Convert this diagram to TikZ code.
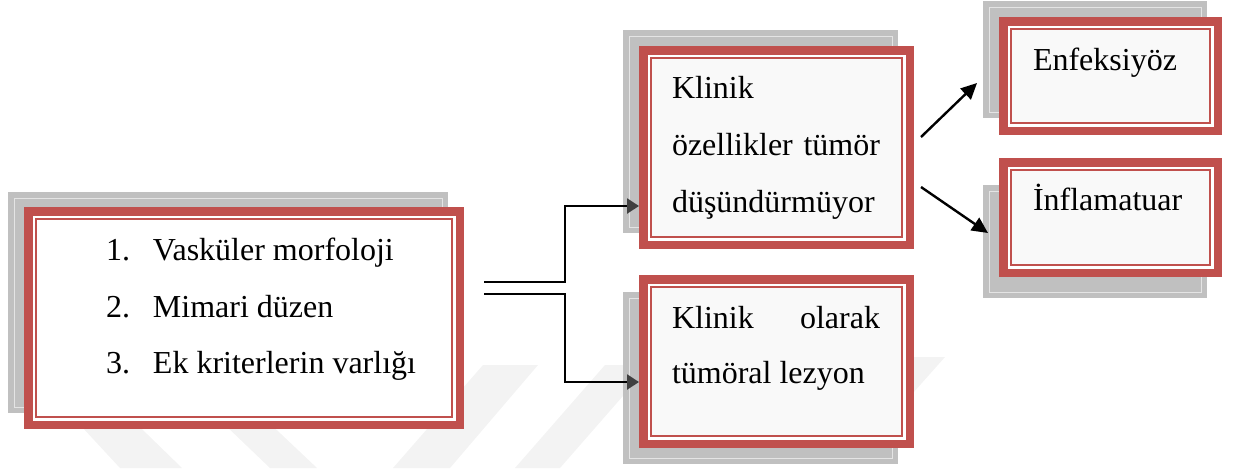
\documentclass[tikz,border=0pt]{standalone}
\usepackage{fontspec}
\setmainfont{Liberation Serif}
\usetikzlibrary{arrows.meta,calc}

\definecolor{boxred}{HTML}{C0504D}
\definecolor{shadowgray}{HTML}{C0C0C0}
\definecolor{shadowline}{HTML}{E4E4E4}
\definecolor{panel}{HTML}{F9F9F9}
\definecolor{tipgray}{HTML}{404040}
\definecolor{wmgray}{HTML}{F3F3F3}

\tikzset{
  % red frame: thick outer border, white gap, thin inner line, filled interior
  redframe/.style={rectangle, fill=boxred, inner sep=0pt, outer sep=0pt,
    path picture={
      \fill[white] ([shift={(4.25pt,-4.25pt)}]path picture bounding box.north west)
        rectangle ([shift={(-4.25pt,4.25pt)}]path picture bounding box.south east);
      \fill[boxred] ([shift={(5.5pt,-5.5pt)}]path picture bounding box.north west)
        rectangle ([shift={(-5.5pt,5.5pt)}]path picture bounding box.south east);
      \fill[#1] ([shift={(6.6pt,-6.6pt)}]path picture bounding box.north west)
        rectangle ([shift={(-6.6pt,6.6pt)}]path picture bounding box.south east);
    }},
  % grey panel lying behind each frame
  shadowpanel/.style={rectangle, fill=shadowgray, inner sep=0pt, outer sep=0pt,
    path picture={
      \draw[shadowline, line width=0.5pt]
        ([shift={(3pt,-3pt)}]path picture bounding box.north west)
        rectangle ([shift={(-3pt,3pt)}]path picture bounding box.south east);
    }},
  txt/.style={anchor=base west, inner sep=0pt, outer sep=0pt,
    font=\fontsize{16pt}{19pt}\selectfont, text=black},
  conn/.style={draw=black, line width=1.2pt,
    -{Triangle[length=6pt,width=7.5pt,color=tipgray]}},
  link/.style={draw=black, line width=1.2pt,
    -{Triangle[length=8pt,width=7.5pt]}},
}

\begin{document}
\begin{tikzpicture}[x=0.5pt,y=-0.5pt]
\useasboundingbox (0,0) rectangle (1234,468);

% faint background stripes
\fill[wmgray] (57,400) -- (112,400) -- (182,468) -- (120,468) -- cycle;
\fill[wmgray] (199,400) -- (245,400) -- (317,468) -- (270,468) -- cycle;
\fill[wmgray] (483,365) -- (538,365) -- (450,468) -- (393,468) -- cycle;
\fill[wmgray] (605,365) -- (650,365) -- (560,468) -- (515,468) -- cycle;
\fill[wmgray] (905,357) -- (945,357) -- (880,430) -- (840,430) -- cycle;

% grey panels
\node[shadowpanel, minimum width=220pt, minimum height=110.5pt] (Ash) at (228,302.5) {};
\node[shadowpanel, minimum width=137.5pt, minimum height=101.5pt] (Bsh) at (760.5,131.5) {};
\node[shadowpanel, minimum width=137.5pt, minimum height=86pt] (Csh) at (760.5,378) {};
\node[shadowpanel, minimum width=112pt, minimum height=58.5pt] (Dsh) at (1095,59.5) {};
\node[shadowpanel, minimum width=112pt, minimum height=56.5pt] (Esh) at (1095,241.5) {};

% framed boxes
\node[redframe=white, minimum width=220pt, minimum height=111pt] (A) at (244,318) {};
\node[redframe=panel, minimum width=137.5pt, minimum height=101.5pt] (B) at (776.5,147.5) {};
\node[redframe=panel, minimum width=137.5pt, minimum height=86.5pt] (C) at (776.5,361.5) {};
\node[redframe=panel, minimum width=111.5pt, minimum height=59pt] (D) at (1110.5,76) {};
\node[redframe=panel, minimum width=111.5pt, minimum height=59.5pt] (E) at (1110.5,217.5) {};

% texts
\node[txt] (a1) at (106,260) {\makebox[23.5pt][l]{1.}Vasküler morfoloji};
\node[txt] (a2) at (106,317) {\makebox[23.5pt][l]{2.}Mimari düzen};
\node[txt] (a3) at (106,373) {\makebox[23.5pt][l]{3.}Ek kriterlerin varlığı};

\node[txt] (b1) at (672,98) {Klinik};
\node[txt] (b2) at (672,155) {\makebox[104pt][s]{özellikler tümör}};
\node[txt] (b3) at (672,212) {düşündürmüyor};

\node[txt] (c1) at (672,328) {\makebox[104pt][s]{Klinik olarak}};
\node[txt] (c2) at (672,383) {tümöral lezyon};

\node[txt] (d1) at (1033,70) {Enfeksiyöz};
\node[txt] (e1) at (1033,210) {İnflamatuar};

% connectors
\coordinate (s1) at (484,282);
\coordinate (s2) at (484,294);
\draw[conn] (s1) -- (565,282) |- ([yshift=-29.25pt]B.west);
\draw[conn] (s2) -- (565,294) |- ([yshift=-10.25pt]C.west);

\draw[link] ([shift={(3.5pt,5.25pt)}]B.east) -- ([shift={(-11pt,-3.5pt)}]D.west);
\draw[link] ([shift={(3.5pt,-19.75pt)}]B.east) -- ([shift={(-5.5pt,-7.75pt)}]E.west);
\end{tikzpicture}
\end{document}
